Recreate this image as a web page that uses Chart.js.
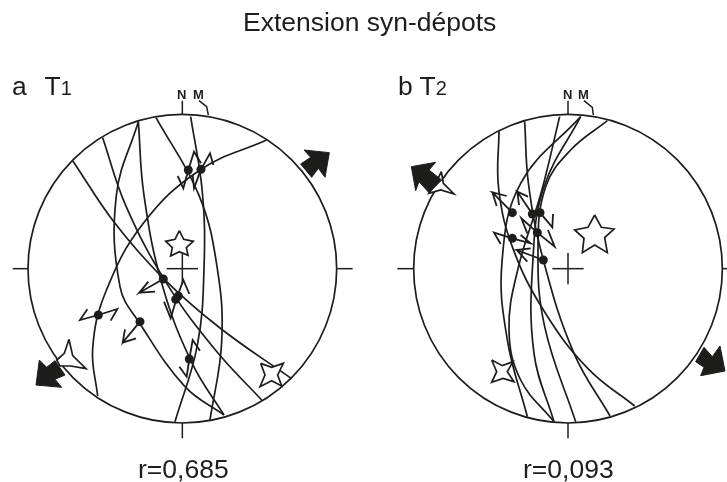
<!DOCTYPE html>
<html>
<head>
<meta charset="utf-8">
<title>Extension syn-dépots</title>
<script src="https://cdn.jsdelivr.net/npm/chart.js@4"></script>
<style>
  html, body { margin: 0; padding: 0; background: #fff; overflow: hidden; }
  #page { position: relative; width: 727px; height: 482px; overflow: hidden; font-family: "Liberation Sans", Arial, sans-serif; color: #1d1d1b; }
  canvas { position: absolute; top: 0; }
  .txt { position: absolute; white-space: nowrap; line-height: 1; }
  .head { font-size: 26.5px; }
  .tiny { font-size: 13px; font-weight: bold; }
  .sub { font-size: 20px; }
</style>
</head>
<body>
<div id="page">
  <canvas id="netA" width="364" height="482" style="left:0"></canvas>
  <canvas id="netB" width="363" height="482" style="left:364px"></canvas>
  <div class="txt head" style="left:243px;top:9px">Extension syn-dépots</div>
  <div class="txt head" style="left:12px;top:73px">a&nbsp; <span style="margin-left:3px">T</span><span class="sub">1</span></div>
  <div class="txt head" style="left:398px;top:73px">b T<span class="sub">2</span></div>
  <div class="txt tiny" style="left:177px;top:88px">N</div>
  <div class="txt tiny" style="left:193px;top:88px">M</div>
  <div class="txt tiny" style="left:563px;top:88px">N</div>
  <div class="txt tiny" style="left:578px;top:88px">M</div>
  <div class="txt head" style="left:138px;top:456px">r=0,685</div>
  <div class="txt head" style="left:523px;top:456px">r=0,093</div>
</div>

<script>
// net coordinates: origin at centre of the stereonet, north up
const netRadius = 463;

// panel a - T1
const planesA = [
  [[-329,324],[-202,136],[-57,-29],[113,-178],[328,-330]],
  [[-239,393],[-170,190],[-47,-44],[100,-245],[238,-394]],
  [[-79,453],[50,220],[105,0],[118,-220],[83,-454]],
  [[25,456],[60,230],[65,0],[45,-230],[-22,-459]],
  [[-132,441],[-115,220],[-60,-50],[30,-285],[125,-439]],
  [[-132,441],[-198,220],[-187,-54],[-127,-165],[8,-354],[125,-439]],
  [[253,386],[53,296],[-117,136],[-230,-70],[-269,-240],[-254,-382]]
];
const polesA = [[18,296],[56,298],[-57,-31],[-20,-92],[-12,-82],[-252,-139],[-127,-159],[21,-271]];
const slipsA = [
  [[-57,-31],[-129,-72],[-102,-39],[-129,-72],[-82,-69]],
  [[-127,-159],[-179,-222],[-172,-182],[-179,-222],[-139,-209]],
  [[-252,-139],[-307,-154],[-285,-122]],
  [[-252,-139],[-195,-121],[-215,-156]],
  [[-17,-89],[3,-34],[21,-76]],
  [[-17,-89],[-35,-149],[-55,-99]],
  [[21,-271],[31,-214],[53,-246]],
  [[21,-271],[13,-324],[-9,-294]],
  [[18,296],[35,351],[56,316]],
  [[18,296],[3,241],[-14,278]],
  [[56,298],[83,346],[93,311]],
  [[56,298],[35,241],[31,281]]
];
const starsA = [
  [[-9,114],[4,88],[33,82],[12,63],[17,40],[-9,51],[-35,38],[-30,63],[-50,82],[-22,88]],
  [[-340,-212],[-329,-261],[-289,-300],[-335,-292],[-367,-292],[-377,-274],[-354,-254]],
  [[235,-284],[268,-296],[303,-284],[286,-319],[298,-352],[268,-336],[233,-354],[248,-319]]
];
const stressA = [
  [[441,348],[428,274],[408,301],[388,274],[355,314],[385,334],[365,356]],
  [[-439,-349],[-429,-274],[-407,-296],[-382,-276],[-352,-319],[-382,-332],[-362,-356]]
];
const ticksA = [
  [[-509,0],[-463,0]], [[465,0],[511,0]], [[0,-462],[0,-509]], [[0,463],[0,504]],
  [[-47,0],[47,0]], [[0,-47],[0,47]],
  [[50,504],[73,486],[78,461]]
];

// panel b - T2
const planesB = [
  [[38,456],[-142,256],[-198,20],[-182,-214],[-122,-444]],
  [[-25,456],[-80,230],[-150,0],[-177,-184],[-142,-334],[-42,-459]],
  [[38,456],[-72,246],[-105,30],[-102,-254],[-42,-459]],
  [[118,444],[8,356],[-67,246],[-90,60],[-70,-174],[23,-459]],
  [[-130,441],[-118,250],[-74,26],[18,-254],[126,-442]],
  [[-207,413],[-208,240],[-165,60],[-70,-130],[60,-300],[200,-412]]
];
const polesB = [[-167,168],[-107,164],[-84,168],[-167,91],[-92,108],[-74,26]];
const slipsB = [
  [[-167,168],[-227,229],[-184,218],[-227,229],[-214,188]],
  [[-107,164],[-152,231],[-120,216],[-152,231],[-147,191]],
  [[-84,168],[-47,124],[-45,164]],
  [[-167,91],[-222,108],[-202,74]],
  [[-167,91],[-112,76],[-142,101]],
  [[-92,108],[-140,151],[-122,106]],
  [[-92,108],[-40,66],[-60,116]],
  [[-74,26],[-154,56],[-112,61],[-154,56],[-122,21]]
];
const starsB = [
  [[80,161],[100,124],[138,119],[110,93],[118,48],[80,71],[43,48],[48,91],[20,116],[60,124]],
  [[-380,291],[-374,256],[-342,224],[-382,236],[-417,226],[-397,256]],
  [[-229,-274],[-197,-291],[-165,-279],[-182,-309],[-162,-339],[-195,-329],[-229,-341],[-214,-309]]
];
const stressB = [
  [[-470,306],[-397,319],[-417,296],[-379,266],[-417,228],[-447,261],[-457,234]],
  [[471,-307],[398,-321],[408,-296],[383,-279],[408,-236],[433,-264],[456,-232]]
];
const ticksB = [
  [[-512,0],[-464,0]], [[464,0],[512,0]], [[0,-462],[0,-509]], [[0,463],[0,504]],
  [[-47,0],[47,0]], [[0,-47],[0,47]],
  [[48,504],[73,484],[76,461]]
];

const ink = '#1d1d1b';
const toPoints = list => list.map(([x, y]) => ({ x, y }));
const closed = list => toPoints(list.concat([list[0]]));

function lineSet(data, order, width, tension) {
  return {
    data: data,
    order: order,
    showLine: true,
    tension: tension,
    borderColor: ink,
    borderWidth: width,
    pointRadius: 0,
    fill: false
  };
}

function createNet(id, xMin, xMax, planes, poles, slips, stars, stress, ticks) {
  const datasets = [
    // outer circle of the net, sized through the x scale
    {
      data: [{ x: 0, y: 0 }],
      order: 5,
      pointRadius: ctx => {
        const s = ctx.chart.scales.x;
        return s.getPixelForValue(netRadius) - s.getPixelForValue(0);
      },
      pointBackgroundColor: 'rgba(0,0,0,0)',
      pointBorderColor: ink,
      pointBorderWidth: 1.7
    },
    {
      data: toPoints(poles),
      order: 0,
      pointRadius: 4.5,
      pointBackgroundColor: ink,
      pointBorderWidth: 0
    }
  ];
  planes.forEach(p => datasets.push(lineSet(toPoints(p), 4, 1.7, 0.4)));
  ticks.forEach(t => datasets.push(lineSet(toPoints(t), 4, 1.5, 0)));
  slips.forEach(s => datasets.push(lineSet(toPoints(s), 3, 1.8, 0)));
  stars.forEach(s => datasets.push({
    ...lineSet(closed(s), 2, 1.7, 0),
    fill: 'shape',
    backgroundColor: '#fff'
  }));
  stress.forEach(s => datasets.push({
    ...lineSet(closed(s), 1, 1, 0),
    fill: 'shape',
    backgroundColor: ink
  }));

  new Chart(document.getElementById(id), {
    type: 'scatter',
    data: { datasets: datasets },
    options: {
      responsive: false,
      animation: false,
      devicePixelRatio: 1,
      layout: { autoPadding: false },
      plugins: { legend: { display: false }, tooltip: { enabled: false }, title: { display: false } },
      scales: {
        x: { type: 'linear', display: false, min: xMin, max: xMax },
        y: { type: 'linear', display: false, min: -640, max: 806 }
      }
    }
  });
}

createNet('netA', -547, 545, planesA, polesA, slipsA, starsA, stressA, ticksA);
createNet('netB', -612, 477, planesB, polesB, slipsB, starsB, stressB, ticksB);
</script>
</body>
</html>
